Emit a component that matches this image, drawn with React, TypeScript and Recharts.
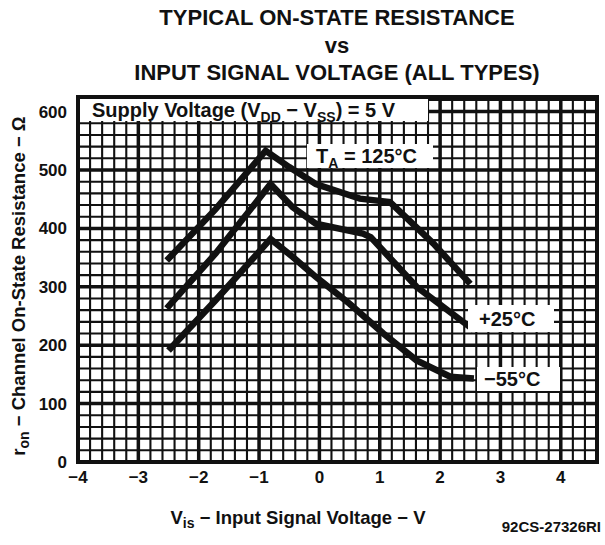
import React from "react";
import { LineChart, Line, XAxis, YAxis, ReferenceLine, ReferenceArea } from "recharts";

// axis ranges and tick labels
const X_MIN = -4;
const X_MAX = 4.6;
const Y_MAX = 625;
const xTicks = [-4, -3, -2, -1, 0, 1, 2, 3, 4];
const yTicks = [0, 100, 200, 300, 400, 500, 600];

// Vis (V) and r_on (ohm)
const vis125 = [-2.53, -1.72, -0.89, -0.5, -0.06, 0.67, 1.17, 1.89, 2.5];
const ron125 = [345, 433, 533, 505, 476, 451, 445, 374, 305];

const vis25 = [-2.53, -1.72, -0.81, -0.44, -0.06, 0.72, 0.85, 1.61, 2.56];
const ron25 = [263, 357, 476, 436, 408, 391, 385, 300, 226];

const visM55 = [-2.5, -1.72, -0.81, -0.44, -0.06, 0.5, 1.06, 1.61, 2.17, 2.56];
const ronM55 = [191, 277, 382, 351, 317, 271, 220, 174, 146, 143];

const toPoints = (xs: number[], ys: number[]) => xs.map((v, i) => ({ v, r: ys[i] }));

// grid: minor every 0.2 V / 20 ohm
const minorX: number[] = [];
for (let i = 1; i < 43; i++) minorX.push(Number((X_MIN + i * 0.2).toFixed(1)));
const minorY: number[] = [];
for (let i = 1; i <= 31; i++) minorY.push(i * 20);

const FONT = '"Liberation Sans", Arial, sans-serif';
const INK = "#111";
const fmt = (v: number) => (v < 0 ? `\u2212${-v}` : `${v}`);

const tickStyle = { fontFamily: FONT, fontWeight: 700, fontSize: 17, fill: INK };

const boxStyle: React.CSSProperties = {
  position: "absolute",
  background: "#fff",
  fontFamily: FONT,
  fontWeight: 700,
  fontSize: 20,
  color: INK,
  whiteSpace: "nowrap",
  lineHeight: 1,
  boxSizing: "border-box",
};

const sub = { fontSize: 14 };

export default function App() {
  return (
    <div style={{ position: "absolute", left: 0, top: 0, width: 605, height: 545, background: "#fff" }}>
      <LineChart
        width={605}
        height={545}
        margin={{ top: 97, right: 8, left: 18, bottom: 53 }}
      >
        <XAxis
          type="number"
          dataKey="v"
          domain={[X_MIN, X_MAX]}
          ticks={xTicks}
          allowDataOverflow
          axisLine={false}
          tickLine={false}
          tickSize={0}
          tickMargin={9}
          tick={tickStyle}
          tickFormatter={fmt}
        />
        <YAxis
          type="number"
          domain={[0, Y_MAX]}
          ticks={yTicks}
          allowDataOverflow
          axisLine={false}
          tickLine={false}
          tickSize={0}
          tickMargin={11}
          tick={tickStyle}
          width={60}
        />
        {minorX.map((v) => (
          <ReferenceLine key={`mx${v}`} x={v} stroke={INK} strokeWidth={2.1} />
        ))}
        {minorY.map((v) => (
          <ReferenceLine key={`my${v}`} y={v} stroke={INK} strokeWidth={2.1} />
        ))}
        {xTicks.map((v) => (
          <ReferenceLine key={`Mx${v}`} x={v} stroke={INK} strokeWidth={3.5} />
        ))}
        {yTicks.map((v) => (
          <ReferenceLine key={`My${v}`} y={v} stroke={INK} strokeWidth={3.5} />
        ))}
        <ReferenceArea x1={X_MIN} x2={X_MAX} y1={0} y2={Y_MAX} fill="none" stroke={INK} strokeWidth={4} />
        <Line data={toPoints(vis125, ron125)} dataKey="r" stroke={INK} strokeWidth={6.5} dot={false} isAnimationActive={false} type="linear" />
        <Line data={toPoints(vis25, ron25)} dataKey="r" stroke={INK} strokeWidth={6.5} dot={false} isAnimationActive={false} type="linear" />
        <Line data={toPoints(visM55, ronM55)} dataKey="r" stroke={INK} strokeWidth={6.5} dot={false} isAnimationActive={false} type="linear" />
      </LineChart>

      {/* title */}
      <div style={{ position: "absolute", left: 37, width: 600, top: 4, textAlign: "center", fontFamily: FONT, fontWeight: 700, fontSize: 22, lineHeight: "27.5px", color: INK }}>
        <div>TYPICAL ON-STATE RESISTANCE</div>
        <div>vs</div>
        <div>INPUT SIGNAL VOLTAGE (ALL TYPES)</div>
      </div>

      {/* annotation boxes */}
      <div style={{ ...boxStyle, left: 80, top: 99, width: 348, height: 22, paddingLeft: 12, paddingTop: 1 }}>
        Supply Voltage (V<sub style={sub}>DD</sub> {"\u2212"} V<sub style={sub}>SS</sub>) = 5 V
      </div>
      <div style={{ ...boxStyle, left: 307, top: 144, width: 126, height: 24, paddingLeft: 9, paddingTop: 2 }}>
        T<sub style={sub}>A</sub> = 125°C
      </div>
      <div style={{ ...boxStyle, left: 468, top: 305, width: 86, height: 27, paddingLeft: 11, paddingTop: 4 }}>
        +25°C
      </div>
      <div style={{ ...boxStyle, left: 477, top: 367, width: 83, height: 24, paddingLeft: 7, paddingTop: 2 }}>
        {"\u2212"}55°C
      </div>

      {/* axis titles */}
      <div style={{ position: "absolute", left: 20, top: 286, transform: "translate(-50%, -50%) rotate(-90deg)", fontFamily: FONT, fontWeight: 700, fontSize: 18.5, whiteSpace: "nowrap", color: INK }}>
        r<sub style={sub}>on</sub> {"\u2212"} Channel On-State Resistance {"\u2212"} {"\u03A9"}
      </div>
      <div style={{ position: "absolute", left: 298, top: 519, transform: "translate(-50%, -50%)", fontFamily: FONT, fontWeight: 700, fontSize: 18.5, whiteSpace: "nowrap", color: INK }}>
        V<sub style={sub}>is</sub> {"\u2212"} Input Signal Voltage {"\u2212"} V
      </div>
      <div style={{ position: "absolute", right: 4, top: 518, fontFamily: FONT, fontWeight: 700, fontSize: 15, whiteSpace: "nowrap", color: INK }}>
        92CS-27326RI
      </div>
    </div>
  );
}
